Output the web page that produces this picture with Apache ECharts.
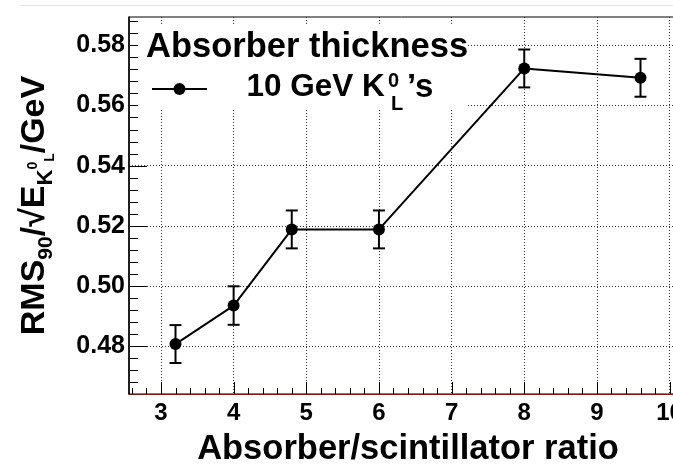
<!DOCTYPE html>
<html>
<head>
<meta charset="utf-8">
<script src="https://cdn.jsdelivr.net/npm/echarts@6/dist/echarts.min.js"></script>
<style>
html,body{margin:0;padding:0;background:#fff;}
#chart{width:673px;height:464px;}
</style>
</head>
<body>
<div id="chart"></div>
<script>
// ---- data ----
const xValues = [3.2, 4.0, 4.8, 6.0, 8.0, 9.6];
const yValues = [0.4807, 0.4935, 0.5188, 0.5188, 0.5723, 0.5692];
const yErrors = [0.0063, 0.0064, 0.0063, 0.0063, 0.0063, 0.0063];
const xTicks = [3, 4, 5, 6, 7, 8, 9, 10];
const yTicks = [0.48, 0.50, 0.52, 0.54, 0.56, 0.58];
const xRange = [2.56, 10.24];
const yRange = [0.4641, 0.5894];
const xMinorStep = 0.2;
const yMinorStep = 0.004;

function minorTicks(range, step, majors) {
  const out = [];
  const start = Math.ceil(range[0] / step - 1e-9);
  const end = Math.floor(range[1] / step + 1e-9);
  for (let i = start; i <= end; i++) {
    const v = +(i * step).toFixed(6);
    if (!majors.some(m => Math.abs(m - v) < 1e-9)) out.push(v);
  }
  return out;
}
const xMinor = minorTicks(xRange, xMinorStep, xTicks);
const yMinor = minorTicks(yRange, yMinorStep, yTicks);

// tick records: [axis (0 = x, 1 = y), value, major (1) / minor (0)]
const tickData = []
  .concat(xTicks.map(v => [0, v, 1]))
  .concat(xMinor.map(v => [0, v, 0]))
  .concat(yTicks.map(v => [1, v, 1]))
  .concat(yMinor.map(v => [1, v, 0]));

const FONT = 'Liberation Sans, Arial, Helvetica, sans-serif';
const gridLine = { show: true, lineStyle: { color: '#333', width: 1, type: [1, 2] } };

const chart = echarts.init(document.getElementById('chart'), null, { renderer: 'canvas' });

const points = xValues.map((x, i) => [x, yValues[i], yErrors[i]]);

const option = {
  backgroundColor: '#fff',
  animation: false,
  grid: { left: 129, top: 17, width: 558, height: 377, show: true, borderColor: '#000', borderWidth: 1,
    backgroundColor: 'transparent', containLabel: false, outerBoundsMode: 'none' },
  xAxis: {
    type: 'value', min: xRange[0], max: xRange[1], position: 'bottom',
    axisLine: { show: true, onZero: false, lineStyle: { color: '#7a1a1a', width: 1 } },
    axisTick: { show: false, customValues: xTicks },
    axisLabel: { show: true, customValues: xTicks, margin: 7, fontSize: 24, fontWeight: 'bold', fontFamily: FONT, color: '#000' },
    splitLine: gridLine,
    name: 'Absorber/scintillator ratio', nameLocation: 'middle', nameGap: 38,
    nameTextStyle: { fontSize: 34.5, fontWeight: 'bold', fontFamily: FONT, color: '#000' }
  },
  yAxis: {
    type: 'value', min: yRange[0], max: yRange[1], position: 'left',
    axisLine: { show: true, onZero: false, lineStyle: { color: '#000', width: 1.5 } },
    axisTick: { show: false, customValues: yTicks },
    axisLabel: { show: true, customValues: yTicks, margin: 4, fontSize: 25, fontWeight: 'bold', fontFamily: FONT, color: '#000',
      formatter: v => v.toFixed(2) },
    splitLine: gridLine,
    name: '{m|RMS}{s|90}{m|/√E}{k|K}{z|0}{l|L}{m|/GeV}',
    nameLocation: 'middle', nameGap: 72, nameRotate: 90,
    nameTextStyle: {
      fontFamily: FONT, fontWeight: 'bold', color: '#000',
      rich: {
        m: { fontSize: 34, fontWeight: 'bold', fontFamily: FONT, color: '#000', lineHeight: 44, verticalAlign: 'middle' },
        s: { fontSize: 21, fontWeight: 'bold', fontFamily: FONT, color: '#000', verticalAlign: 'bottom', lineHeight: 44 },
        k: { fontSize: 22, fontWeight: 'bold', fontFamily: FONT, color: '#000', verticalAlign: 'bottom', lineHeight: 44 },
        z: { fontSize: 14, fontWeight: 'bold', fontFamily: FONT, color: '#000', verticalAlign: 'middle', lineHeight: 44, padding: [0, 0, 4, 0] },
        l: { fontSize: 14, fontWeight: 'bold', fontFamily: FONT, color: '#000', verticalAlign: 'bottom', lineHeight: 44 }
      }
    }
  },
  graphic: [
    { type: 'line', shape: { x1: 20, y1: 5.5, x2: 673, y2: 5.5 }, style: { stroke: '#f2dfe7', lineWidth: 1 }, z: 1 },
    { type: 'rect', shape: { x: 138, y: 25, width: 329, height: 85 }, style: { fill: '#fff' }, z: 50 },
    { type: 'text', x: 146, y: 47.5, z: 51, style: { text: 'Absorber thickness', font: 'bold 34.5px ' + FONT, fill: '#000', verticalAlign: 'middle', align: 'left' } },
    { type: 'line', shape: { x1: 152, y1: 89, x2: 207, y2: 89 }, style: { stroke: '#000', lineWidth: 2 }, z: 51 },
    { type: 'circle', shape: { cx: 179.5, cy: 89, r: 6 }, style: { fill: '#000' }, z: 52 },
    { type: 'text', x: 246.5, y: 87.5, z: 51, style: { text: '10 GeV K', font: 'bold 31.5px ' + FONT, fill: '#000', verticalAlign: 'middle', align: 'left' } },
    { type: 'text', x: 388, y: 81, z: 51, style: { text: '0', font: 'bold 20px ' + FONT, fill: '#000', verticalAlign: 'middle', align: 'left' } },
    { type: 'text', x: 391, y: 104, z: 51, style: { text: 'L', font: 'bold 20px ' + FONT, fill: '#000', verticalAlign: 'middle', align: 'left' } },
    { type: 'text', x: 407, y: 87.5, z: 51, style: { text: '’s', font: 'bold 33px ' + FONT, fill: '#000', verticalAlign: 'middle', align: 'left' } }
  ],
  series: [{
    type: 'line',
    data: points.map(p => [p[0], p[1]]),
    symbol: 'circle', symbolSize: 12,
    lineStyle: { color: '#000', width: 2 },
    itemStyle: { color: '#000' },
    z: 10
  }, {
    type: 'custom',
    data: points,
    encode: { x: 0, y: 1 },
    renderItem: function (params, api) {
      const x = api.value(0), y = api.value(1), e = api.value(2);
      const top = api.coord([x, y + e]);
      const bot = api.coord([x, y - e]);
      const cap = 6;
      const st = { stroke: '#000', lineWidth: 2 };
      return { type: 'group', children: [
        { type: 'line', shape: { x1: top[0], y1: top[1], x2: bot[0], y2: bot[1] }, style: st },
        { type: 'line', shape: { x1: top[0] - cap, y1: top[1], x2: top[0] + cap, y2: top[1] }, style: st },
        { type: 'line', shape: { x1: bot[0] - cap, y1: bot[1], x2: bot[0] + cap, y2: bot[1] }, style: st }
      ] };
    },
    z: 9
  }, {
    // axis tick marks, placed through the axes' own scales
    type: 'custom',
    data: tickData,
    clip: false,
    silent: true,
    renderItem: function (params, api) {
      const axis = api.value(0), v = api.value(1), major = api.value(2);
      const st = { stroke: '#000', lineWidth: 1 };
      if (axis === 0) {
        const p = api.coord([v, yRange[0]]);
        const len = major ? 12 : 6;
        return { type: 'line', shape: { x1: Math.round(p[0]) + 0.5, y1: p[1], x2: Math.round(p[0]) + 0.5, y2: p[1] - len }, style: st };
      }
      const p = api.coord([xRange[0], v]);
      const len = major ? 18 : 9;
      return { type: 'line', shape: { x1: p[0], y1: Math.round(p[1]) + 0.5, x2: p[0] + len, y2: Math.round(p[1]) + 0.5 }, style: st };
    },
    z: 8
  }]
};
chart.setOption(option);
</script>
</body>
</html>
